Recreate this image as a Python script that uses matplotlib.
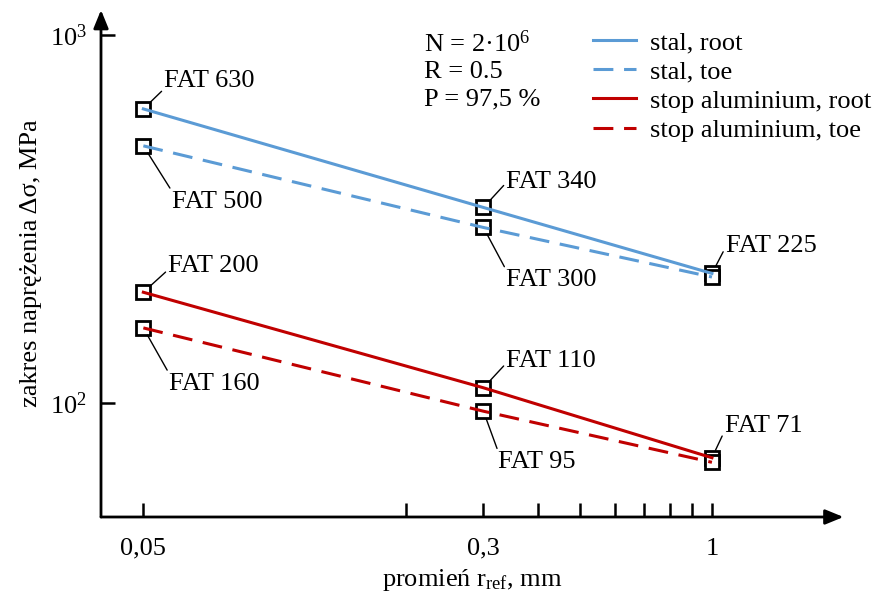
import matplotlib
matplotlib.use("Agg")
import matplotlib.pyplot as plt
from matplotlib.ticker import FixedLocator, NullFormatter, NullLocator

# radius r_ref [mm] and FAT classes [MPa]
r_ref = [0.05, 0.3, 1.0]
steel_root = [630, 340, 225]
steel_toe = [500, 300, 220]
alu_root = [200, 110, 71]
alu_toe = [160, 95, 69]

x_major = [0.05, 0.3, 1.0]
x_major_labels = ["0,05", "0,3", "1"]
x_minor = [0.2, 0.4, 0.5, 0.6, 0.7, 0.8, 0.9]
y_major = [100, 1000]
y_major_labels = [r"$10^{2}$", r"$10^{3}$"]

# FAT labels: (x, y, text, offset px, relpos of leader line on the text box)
fat_labels = [
    (0.05, 630, "FAT 630", (21, 28), (0.0, 0.15)),
    (0.05, 500, "FAT 500", (29, -56), (0.0, 0.95)),
    (0.3, 340, "FAT 340", (23, 25), (0.0, 0.5)),
    (0.3, 300, "FAT 300", (23, -53), (0.0, 0.95)),
    (1.0, 225, "FAT 225", (14, 27), (0.0, 0.5)),
    (0.05, 200, "FAT 200", (25, 26), (0.0, 0.35)),
    (0.05, 160, "FAT 160", (26, -56), (0.0, 0.95)),
    (0.3, 110, "FAT 110", (23, 27), (0.0, 0.4)),
    (0.3, 95, "FAT 95", (15, -51), (0.0, 0.95)),
    (1.0, 71, "FAT 71", (13, 32), (0.0, 0.3)),
]

plt.rcParams["font.family"] = ["Liberation Serif", "DejaVu Serif"]
plt.rcParams["mathtext.fontset"] = "custom"
plt.rcParams["mathtext.rm"] = "Liberation Serif"
plt.rcParams["mathtext.it"] = "Liberation Serif:italic"
FS = 19

blue = "#5B9BD5"
red = "#C00000"

fig = plt.figure(figsize=(8.73, 5.93), dpi=100)
ax = fig.add_axes([101 / 873, 76 / 593, 742.5 / 873, 507 / 593])
ax.set_xscale("log")
ax.set_yscale("log")
ax.set_xlim(0.04, 2.0)
ax.set_ylim(49, 1170)

lw = 2.2
dash = (0, (6.5, 3.5))
series = [
    (steel_root, blue, "-", "stal, root"),
    (steel_toe, blue, dash, "stal, toe"),
    (alu_root, red, "-", "stop aluminium, root"),
    (alu_toe, red, dash, "stop aluminium, toe"),
]
for vals, col, ls, lab in series:
    ax.plot(r_ref, vals, color=col, ls=ls, lw=lw, label=lab, zorder=3)
    ax.plot(r_ref, vals, ls="none", marker="s", ms=10, mfc="white",
            mec="black", mew=2.0, zorder=2)

for x, y, txt, off, rel in fat_labels:
    ax.annotate(txt, xy=(x, y), xytext=off, textcoords="offset pixels",
                ha="left", va="center", fontsize=FS,
                arrowprops=dict(arrowstyle="-", color="black", lw=1.0,
                                relpos=rel, shrinkA=0, shrinkB=6))

ax.text(0.435, 0.96, "N = 2·10$^{6}$\nR = 0.5\nP = 97,5 %",
        transform=ax.transAxes, ha="left", va="top", fontsize=FS,
        linespacing=1.27)

leg = ax.legend(loc="upper left", bbox_to_anchor=(0.649, 0.98), frameon=False,
                fontsize=FS, handlelength=1.6, handletextpad=0.55,
                labelspacing=0.22, borderaxespad=0.0)

# axes with arrow heads
for s in ax.spines.values():
    s.set_visible(False)
arrow = "-|>,head_length=1.1,head_width=0.45"
ax.annotate("", xy=(1.0, 0), xytext=(0, 0), xycoords="axes fraction",
            arrowprops=dict(arrowstyle=arrow, color="black", lw=2.0,
                            shrinkA=0, shrinkB=0))
ax.annotate("", xy=(0, 1.0), xytext=(0, 0), xycoords="axes fraction",
            arrowprops=dict(arrowstyle=arrow, color="black", lw=2.0,
                            shrinkA=0, shrinkB=0))

ax.xaxis.set_major_locator(FixedLocator(x_major))
ax.xaxis.set_minor_locator(FixedLocator(x_minor))
ax.set_xticklabels(x_major_labels)
ax.xaxis.set_minor_formatter(NullFormatter())
ax.yaxis.set_major_locator(FixedLocator(y_major))
ax.yaxis.set_minor_locator(NullLocator())
ax.set_yticklabels(y_major_labels)

ax.tick_params(axis="both", which="both", direction="in", length=10,
               width=1.8, labelsize=FS, color="black")
ax.tick_params(axis="x", which="both", pad=15)
ax.tick_params(axis="y", which="both", pad=10)

ax.set_xlabel(r"promień r$_{\mathrm{ref}}$, mm", fontsize=FS, labelpad=5)
ax.set_ylabel("zakres naprężenia Δσ, MPa", fontsize=FS, labelpad=6)

fig.savefig("out.png", dpi=100)
